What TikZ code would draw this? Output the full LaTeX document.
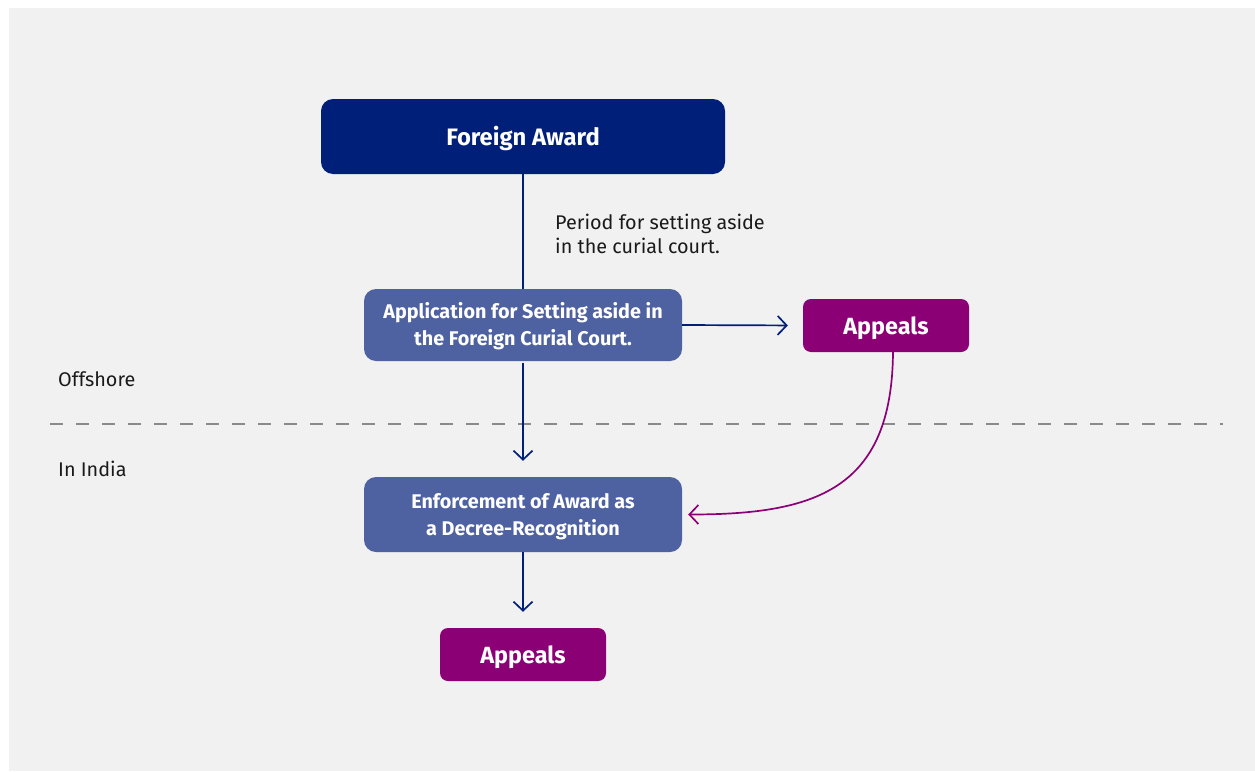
\documentclass[tikz,border=0pt]{standalone}
\usepackage{fontspec}
\setmainfont{Fira Sans}
\usetikzlibrary{arrows.meta}
\definecolor{bgc}{HTML}{F1F1F1}
\definecolor{navy}{HTML}{001F78}
\definecolor{midblue}{HTML}{4E61A0}
\definecolor{plum}{HTML}{8B0075}
\definecolor{dashc}{HTML}{8A8A8A}
\definecolor{txt}{HTML}{1A1A1A}
\tikzset{
  box/.style={rounded corners=12pt, inner sep=0pt, align=center, text=white, text depth=0pt, font=\bfseries\fontsize{19.8}{27}\selectfont},
  navybox/.style={box, fill=navy, minimum width=404pt, minimum height=75pt, text height=17pt, font=\bfseries\fontsize{23.8}{26}\selectfont},
  bluebox/.style={box, fill=midblue, minimum width=318pt},
  plumbox/.style={box, fill=plum, rounded corners=8pt, minimum width=166pt, minimum height=53pt, text height=17pt, font=\bfseries\fontsize{23.4}{26}\selectfont},
  conn/.style={draw=navy, line width=1.7pt},
  arr/.style={conn, -{Straight Barb[length=9pt,width=19pt,line width=1.7pt]}},
  parr/.style={draw=plum, line width=1.7pt, -{Straight Barb[length=9pt,width=19pt,line width=1.7pt]}},
  lbl/.style={text=txt, font=\fontsize{19.8}{24}\selectfont, inner sep=0pt, align=left},
}
\begin{document}
\begin{tikzpicture}[x=1pt,y=-1pt]
\useasboundingbox (0,0) rectangle (1255,771);
\fill[white] (0,0) rectangle (1255,771);
\fill[bgc] (9,8) rectangle (1255,771);
\draw[dashc, line width=2.6pt, dash pattern=on 13pt off 13pt] (50,424) -- (1223,424);
\node[navybox] (fa) at (523,136.5) {Foreign Award};
\node[bluebox, minimum height=72pt, text height=40pt] (app) at (523,325) {Application for Setting aside in\\the Foreign Curial Court.};
\node[plumbox] (ap1) at (886,325.5) {Appeals};
\node[bluebox, minimum height=75pt, text height=42pt] (enf) at (523,514.5) {Enforcement of Award as\\a Decree-Recognition};
\node[plumbox] (ap2) at (523,654.5) {Appeals};
\node[lbl, anchor=base west] (per) at (555,253) {Period for setting aside\\in the curial court.};
\node[lbl, anchor=base west] (off) at (58,386) {Offshore};
\node[lbl, anchor=base west] (ind) at (58,476) {In India};
\coordinate (cs) at (893,352);
\draw[conn] (fa.south) -- (app.north);
\draw[arr, shorten >=15pt] (app.east) -- (ap1.west);
\draw[arr, shorten <=2pt, shorten >=16pt] (app.south) -- (enf.north);
\draw[arr, shorten >=16pt] (enf.south) -- (ap2.north);
\draw[parr, shorten >=6pt] (cs) .. controls (892,490) and (815,514.5) .. (enf.east);
\end{tikzpicture}
\end{document}
